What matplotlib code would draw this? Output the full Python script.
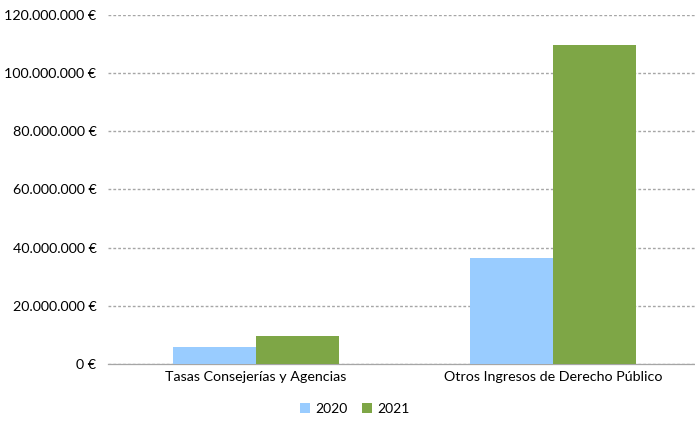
import matplotlib.pyplot as plt
import matplotlib.ticker as mticker
import numpy as np

categories = ["Tasas Consejerías y Agencias", "Otros Ingresos de Derecho Público"]
years = ["2020", "2021"]
values_2020 = [5950000, 36500000]
values_2021 = [9700000, 109700000]
colors = ["#99CCFF", "#7EA646"]

plt.rcParams["font.family"] = ["Lato", "DejaVu Sans"]

fig = plt.figure(figsize=(6.95, 4.21), dpi=100)
ax = fig.add_axes([107.5 / 695, 57 / 421, 594 / 695, 349 / 421])

x = np.arange(len(categories))
w = 0.28
ax.bar(x - w / 2, values_2020, w, color=colors[0], label=years[0], zorder=3)
ax.bar(x + w / 2, values_2021, w, color=colors[1], label=years[1], zorder=3)

ax.set_xlim(-0.5, 1.5)
ax.set_ylim(0, 120000000)
ax.set_yticks(np.arange(0, 120000001, 20000000))
ax.yaxis.set_major_formatter(mticker.FuncFormatter(lambda v, p: f"{int(v):,}".replace(",", ".") + " €"))
ax.set_xticks(x)
ax.set_xticklabels(categories)
ax.tick_params(axis="both", length=0, labelsize=10.3, colors="#000000")
ax.tick_params(axis="y", pad=8)
ax.tick_params(axis="x", pad=5)

ax.grid(axis="y", color="#A6A6A6", linestyle=(0, (2, 1.5)), linewidth=1.0, zorder=0)
for s in ["top", "right", "left"]:
    ax.spines[s].set_visible(False)
ax.spines["bottom"].set_color("#A6A6A6")
ax.spines["bottom"].set_linewidth(0.9)

fig.legend(loc="center", bbox_to_anchor=(355 / 695, 1 - 409 / 421), ncol=2, frameon=False,
           fontsize=10, handlelength=0.7, handleheight=0.7, columnspacing=1.0, handletextpad=0.4)

fig.savefig("out.png", dpi=100)
